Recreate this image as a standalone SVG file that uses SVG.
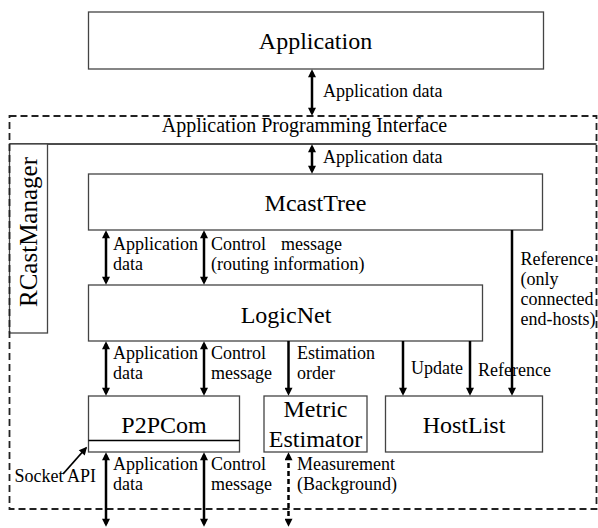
<svg xmlns="http://www.w3.org/2000/svg" width="598" height="528" viewBox="0 0 598 528">
<style>
text{font-family:"Liberation Serif","Times New Roman",serif;fill:#000}
.big{font-size:24px;text-anchor:middle}
.lbl{font-size:18px}
.box{fill:#fff;stroke:#444;stroke-width:1.3}
.arr{stroke:#000;stroke-width:2.5;fill:none}
.dash{stroke:#222;stroke-width:1.8;fill:none;stroke-dasharray:7 4}
</style>
<defs>
<marker id="ah" viewBox="0 0 10 10" markerUnits="userSpaceOnUse" markerWidth="9" markerHeight="8" refX="6.7" refY="5" orient="auto-start-reverse">
<path d="M0,0 L10,5 L0,10 z" fill="#000"/>
</marker>
<marker id="ahs" viewBox="0 0 10 10" markerUnits="userSpaceOnUse" markerWidth="9" markerHeight="8" refX="8" refY="5" orient="auto">
<path d="M0,0 L10,5 L0,10 z" fill="#000"/>
</marker>
</defs>

<g id="application">
<rect class="box" x="88.5" y="12" width="455" height="57"/>
<text class="big" x="315.5" y="49">Application</text>
</g>

<g id="api">
<line x1="9.5" y1="144" x2="596.5" y2="144" stroke="#111" stroke-width="1.3"/>
<text x="304.5" y="132" style="font-size:20px;text-anchor:middle">Application Programming Interface</text>
</g>

<g id="rcastmanager">
<rect class="box" x="9.5" y="144" width="38" height="189"/>
<text transform="translate(37 232) rotate(-90)" style="font-size:25px;text-anchor:middle">RCastManager</text>
</g>

<g id="mcasttree">
<rect class="box" x="88.5" y="174" width="454" height="56"/>
<text class="big" x="315.5" y="211">McastTree</text>
</g>

<g id="logicnet">
<rect class="box" x="88.5" y="285" width="394" height="56"/>
<text class="big" x="286" y="323">LogicNet</text>
</g>

<g id="p2pcom">
<rect class="box" x="88.5" y="396" width="151" height="56"/>
<line x1="88.5" y1="440.5" x2="239.5" y2="440.5" stroke="#000" stroke-width="1.5"/>
<text class="big" x="164" y="433">P2PCom</text>
</g>

<g id="metric-estimator">
<rect class="box" x="264" y="396" width="103" height="56"/>
<text class="big" x="315.5" y="417">Metric</text>
<text class="big" x="315.5" y="447">Estimator</text>
</g>

<g id="hostlist">
<rect class="box" x="385.5" y="396" width="157" height="56"/>
<text class="big" x="464" y="433">HostList</text>
</g>

<g id="rcast-frame">
<rect class="dash" x="9.5" y="116" width="587" height="393"/>
</g>

<g id="connectors">
<line class="arr" x1="312" y1="72" x2="312" y2="113" marker-start="url(#ah)" marker-end="url(#ah)"/>
<line class="arr" x1="312" y1="147" x2="312" y2="171" marker-start="url(#ah)" marker-end="url(#ah)"/>
<line class="arr" x1="106" y1="233" x2="106" y2="282" marker-start="url(#ah)" marker-end="url(#ah)"/>
<line class="arr" x1="204" y1="233" x2="204" y2="282" marker-start="url(#ah)" marker-end="url(#ah)"/>
<line class="arr" x1="512" y1="230" x2="512" y2="393" marker-end="url(#ah)"/>
<line class="arr" x1="106" y1="344" x2="106" y2="393" marker-start="url(#ah)" marker-end="url(#ah)"/>
<line class="arr" x1="204" y1="344" x2="204" y2="393" marker-start="url(#ah)" marker-end="url(#ah)"/>
<line class="arr" x1="288.5" y1="341" x2="288.5" y2="393" marker-end="url(#ah)"/>
<line class="arr" x1="403" y1="341" x2="403" y2="393" marker-end="url(#ah)"/>
<line class="arr" x1="470" y1="341" x2="470" y2="393" marker-end="url(#ah)"/>
<line class="arr" x1="106" y1="455" x2="106" y2="524" marker-start="url(#ah)" marker-end="url(#ah)"/>
<line class="arr" x1="204" y1="455" x2="204" y2="524" marker-start="url(#ah)" marker-end="url(#ah)"/>
<line class="arr" x1="288.5" y1="455" x2="288.5" y2="524" stroke-dasharray="5 3" marker-start="url(#ah)" marker-end="url(#ah)"/>
<line x1="63" y1="474" x2="86" y2="448" stroke="#000" stroke-width="1.8" marker-end="url(#ahs)"/>
</g>

<g id="labels">
<text class="lbl" x="323" y="97">Application data</text>
<text class="lbl" x="323" y="163">Application data</text>
<text class="lbl" x="113" y="250">Application<tspan x="113" dy="20">data</tspan></text>
<text class="lbl" x="211" y="250">Control<tspan x="281">message</tspan><tspan x="211" dy="20">(routing information)</tspan></text>
<text class="lbl" x="520.5" y="265">Reference<tspan x="520.5" dy="20">(only</tspan><tspan x="520.5" dy="20">connected</tspan><tspan x="520.5" dy="20">end-hosts)</tspan></text>
<text class="lbl" x="113" y="359">Application<tspan x="113" dy="20">data</tspan></text>
<text class="lbl" x="211" y="359">Control<tspan x="211" dy="20">message</tspan></text>
<text class="lbl" x="297" y="359">Estimation<tspan x="297" dy="20">order</tspan></text>
<text class="lbl" x="411" y="374">Update</text>
<text class="lbl" x="478" y="376">Reference</text>
<text class="lbl" x="14.5" y="482">Socket API</text>
<text class="lbl" x="113" y="470">Application<tspan x="113" dy="20">data</tspan></text>
<text class="lbl" x="211" y="470">Control<tspan x="211" dy="20">message</tspan></text>
<text class="lbl" x="297" y="470">Measurement<tspan x="297" dy="20">(Background)</tspan></text>
</g>
</svg>
